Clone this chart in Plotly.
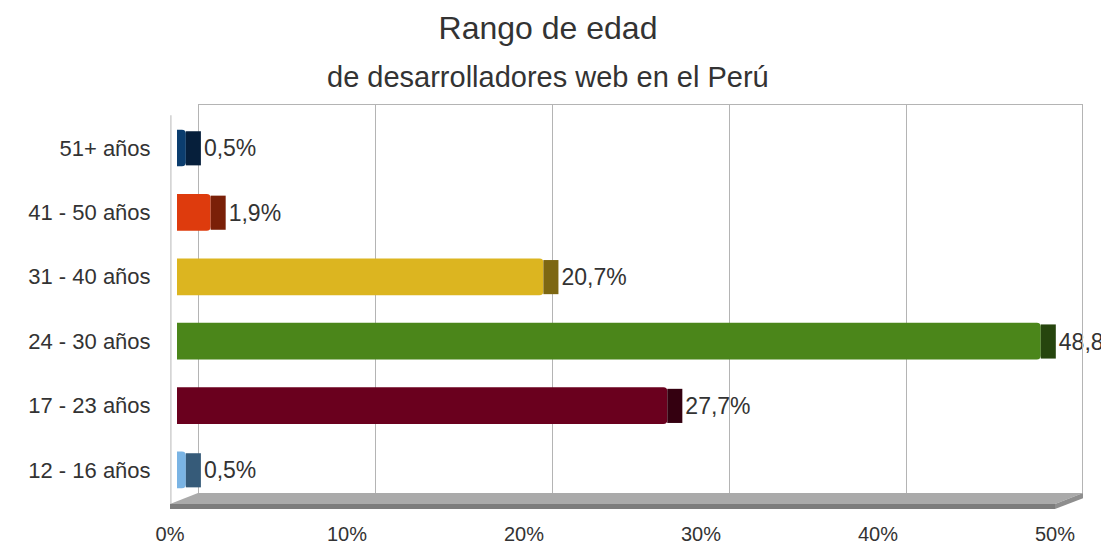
import plotly.graph_objects as go

# data
categories = ["12 - 16 años", "17 - 23 años", "24 - 30 años", "31 - 40 años", "41 - 50 años", "51+ años"]
values = [0.5, 27.7, 48.8, 20.7, 1.9, 0.5]
labels = ["0,5%", "27,7%", "48,8%", "20,7%", "1,9%", "0,5%"]
front_colors = ["#7ab4e4", "#6a001e", "#4b861a", "#dcb520", "#de3b0d", "#0b3d6e"]
side_colors = ["#365b79", "#340010", "#26450e", "#7d6712", "#7a2008", "#061f3b"]
tick_vals = [0, 10, 20, 30, 40, 50]
tick_text = ["0%", "10%", "20%", "30%", "40%", "50%"]

# page body has an 8px margin, so the figure is drawn 8px smaller and offset
off = 8
W, H = 1109 - off, 547 - off
font = "Liberation Sans, Arial, sans-serif"
txt = "#333333"

# pixel layout of the fake 3d box (window coordinates)
left, right, top, bottom = 170, 1083, 104, 509
px_per = 17.7           # px per 1 %
bar_shift = 7           # bars sit a bit behind the front edge
back_shift = 28         # back wall offset
depth = 0.85            # bar side face length in %

fig = go.Figure()

# front faces
fig.add_trace(go.Bar(
    y=categories, x=values, orientation="h",
    marker=dict(color=front_colors, line=dict(width=0), cornerradius=4),
    width=0.57, hoverinfo="skip", showlegend=False,
))
# side faces
fig.add_trace(go.Bar(
    y=categories, x=[depth] * len(values), base=values, orientation="h",
    marker=dict(color=side_colors, line=dict(width=0)),
    width=0.53, offset=-0.27,
    text=labels, textposition="outside", cliponaxis=False,
    textfont=dict(size=23, color=txt, family=font),
    hoverinfo="skip", showlegend=False,
))

span = (right - left) / px_per
fig.update_layout(
    width=W, height=H,
    margin=dict(l=left - off, r=W - (right - off), t=top - off, b=H - (bottom - off), autoexpand=False),
    paper_bgcolor="white", plot_bgcolor="white",
    barmode="overlay",
    font=dict(family=font, color=txt),
    title=dict(text="Rango de edad", x=(548 - off) / W, xanchor="center",
               y=1 - (28 - off) / H, yanchor="middle",
               font=dict(size=32, color=txt, family=font)),
    xaxis=dict(range=[-bar_shift / px_per, span - bar_shift / px_per],
               showgrid=False, zeroline=False, showticklabels=False, fixedrange=True),
    # front scale, only tick labels
    xaxis2=dict(overlaying="x", side="bottom", range=[0, span], tickvals=tick_vals, ticktext=tick_text,
                showgrid=False, zeroline=False, ticks="outside", ticklen=7, tickcolor="rgba(0,0,0,0)",
                tickfont=dict(size=20, color=txt, family=font), anchor="y"),
    # back wall scale, gridlines only
    xaxis3=dict(overlaying="x", side="top", range=[-back_shift / px_per, span - back_shift / px_per],
                tickvals=tick_vals, showticklabels=False, showgrid=True, gridcolor="#b4b4b4", gridwidth=1.3,
                zeroline=False, showline=False, anchor="y"),
    yaxis=dict(range=[-0.606, 5.683], type="category", showgrid=False, zeroline=False,
               ticks="outside", ticklen=14, tickcolor="rgba(0,0,0,0)",
               tickfont=dict(size=22, color=txt, family=font), fixedrange=True),
)

# invisible anchors so the overlaying axes get drawn
fig.add_trace(go.Scatter(x=[0], y=[categories[0]], xaxis="x2", mode="markers",
                         marker=dict(opacity=0), hoverinfo="skip", showlegend=False))
fig.add_trace(go.Scatter(x=[0], y=[categories[0]], xaxis="x3", mode="markers",
                         marker=dict(opacity=0), hoverinfo="skip", showlegend=False))

fig.add_annotation(text="de desarrolladores web en el Perú", xref="paper", yref="paper",
                   x=(548 - left) / (right - left), y=(bottom - 77) / (bottom - top),
                   showarrow=False, xanchor="center", yanchor="middle",
                   font=dict(size=29, color=txt, family=font))

# walls and floor (decoration)
y_back, y_front, y_low = -0.358, -0.528, -0.606
bs = back_shift / px_per
fig.add_shape(type="line", xref="x2", yref="y", x0=bs, x1=span, y0=5.683, y1=5.683,
              line=dict(color="#b4b4b4", width=2))
fig.add_shape(type="line", xref="x2", yref="y", x0=span, x1=span, y0=5.683, y1=y_back,
              line=dict(color="#b4b4b4", width=2))
fig.add_shape(type="line", xref="x2", yref="y", x0=0.05, x1=0.05, y0=5.51, y1=y_front,
              line=dict(color="#c8c8c8", width=1.3))
fig.add_shape(type="path", xref="x2", yref="y", layer="above",
              path=f"M 0 {y_front} L 50 {y_front} L {span} {y_back} L {bs} {y_back} Z",
              fillcolor="#aaaaaa", line=dict(width=0))
fig.add_shape(type="path", xref="x2", yref="y", layer="above",
              path=f"M 0 {y_front} L 50 {y_front} L 50 {y_low} L 0 {y_low} Z",
              fillcolor="#7d7d7d", line=dict(width=0))
fig.add_shape(type="path", xref="x2", yref="y", layer="above",
              path=f"M 50 {y_front} L {span} {y_back} L {span} {y_back - 0.08} L 50 {y_low} Z",
              fillcolor="#8e8e8e", line=dict(width=0))

fig.write_html("out.html")
